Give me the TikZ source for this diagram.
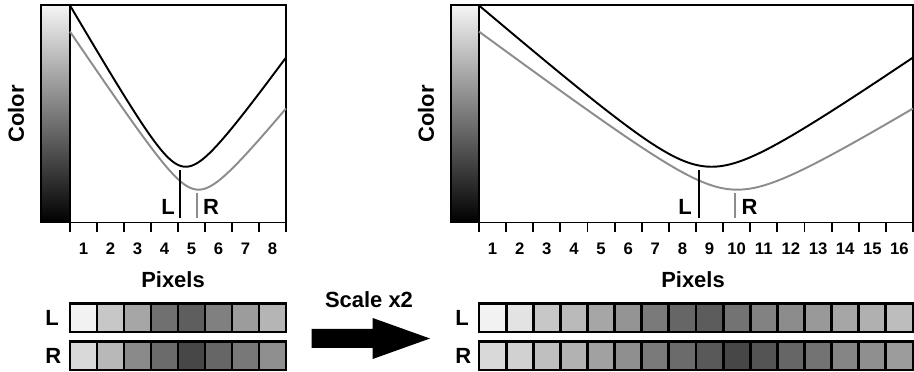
\documentclass[tikz,border=0pt]{standalone}
\usepackage{fontspec}
\setmainfont{Liberation Sans}
\begin{document}
\begin{tikzpicture}[
    x=0.02cm, y=0.02cm,
    lbl/.style={font=\fontsize{12.5}{14}\selectfont\bfseries, inner sep=0pt},
    ticklbl/.style={font=\fontsize{9.5}{11}\selectfont\bfseries, inner sep=0pt},
    frame/.style={draw=black, line width=1.1pt},
    curve/.style={line width=1.1pt, line join=round},
    cell/.style={draw=black, line width=1.6pt},
    declare function={
        blk(\u)=56+42.19*(sqrt((\u-4.185)^2+0.857)-0.926)-4.61*(\u-4.185);
        gry(\u)=33+36.77*(sqrt((\u-4.667)^2+0.857)-0.926)-3.645*(\u-4.667);
    }
]
\useasboundingbox (0,0) rectangle (914,372);

% Left plot: 8 pixels
\shade[top color=black!4, bottom color=black] (41,149.5) rectangle (70,367);
\draw[frame] (41,149.5) rectangle (286,367);
\draw[frame] (70,149.5) -- (70,367);
\foreach \i in {0,...,8}
    \draw[frame] ({70+27*\i},149.5) -- ++(0,-9.5);
\foreach \i in {1,...,8}
    \node[ticklbl] (ltick\i) at ({70+27*\i-13.5},123) {\i};
\draw[curve, black!45] plot[domain=0:8, samples=120, variable=\u] ({70+27*\u},{149.5+gry(\u)});
\draw[curve] plot[domain=0:8, samples=120, variable=\u] ({70+27*\u},{149.5+blk(\u)});
\draw[line width=1.1pt] (180,202) -- (180,154);
\draw[line width=1.1pt, black!45] (197,179) -- (197,154);
\node[lbl] (lmarkL) at (168,165) {L};
\node[lbl] (lmarkR) at (211,165) {R};
\node[lbl, rotate=90] (lcolor) at (16,258) {Color};
\node[lbl] (lpixels) at (173,92) {Pixels};

% Left pixel rows
\node[lbl, anchor=west] (lrowL) at (45,54) {L};
\node[lbl, anchor=west] (lrowR) at (45,16) {R};
\foreach \k [count=\i from 0] in {5,22,35,56,63,50,39,29}
    \draw[cell, fill=black!\k] ({70+27*\i},40) rectangle ++(27,28.5);
\foreach \k [count=\i from 0] in {15,28,46,58,72,60,53,44}
    \draw[cell, fill=black!\k] ({70+27*\i},2) rectangle ++(27,28.5);

% Scale arrow
\node[lbl] (scalelbl) at (369,72) {Scale x2};
\fill (311.7,24) -- (372.7,24) -- (372.7,13) -- (430,33.5) -- (372.7,54)
    -- (372.7,43) -- (311.7,43) -- cycle;

% Right plot: 16 pixels
\shade[top color=black!4, bottom color=black] (451,149.5) rectangle (479,367);
\draw[frame] (451,149.5) rectangle (913,367);
\draw[frame] (479,149.5) -- (479,367);
\foreach \i in {0,...,16}
    \draw[frame] ({479+27.125*\i},149.5) -- ++(0,-9.5);
\foreach \i in {1,...,16}
    \node[ticklbl] (rtick\i) at ({479+27.125*\i-13.56},123) {\i};
\draw[curve, black!45] plot[domain=0:8, samples=160, variable=\u] ({479+54.25*\u},{149.5+gry(\u)});
\draw[curve] plot[domain=0:8, samples=160, variable=\u] ({479+54.25*\u},{149.5+blk(\u)});
\draw[line width=1.1pt] (699,202) -- (699,154);
\draw[line width=1.1pt, black!45] (735,179) -- (735,154);
\node[lbl] (rmarkL) at (685,165) {L};
\node[lbl] (rmarkR) at (749.5,165) {R};
\node[lbl, rotate=90] (rcolor) at (426,258) {Color};
\node[lbl] (rpixels) at (693,92) {Pixels};

% Right pixel rows
\node[lbl, anchor=west] (rrowL) at (455,54) {L};
\node[lbl, anchor=west] (rrowR) at (455,16) {R};
\foreach \k [count=\i from 0] in {5,11,22,27,35,42,52,60,64,55,49,45,40,35,31,26}
    \draw[cell, fill=black!\k] ({479+27.125*\i},40) rectangle ++(27.125,28.5);
\foreach \k [count=\i from 0] in {15,18,25,30,37,44,52,58,65,72,67,60,55,48,44,39}
    \draw[cell, fill=black!\k] ({479+27.125*\i},2) rectangle ++(27.125,28.5);
\end{tikzpicture}
\end{document}
